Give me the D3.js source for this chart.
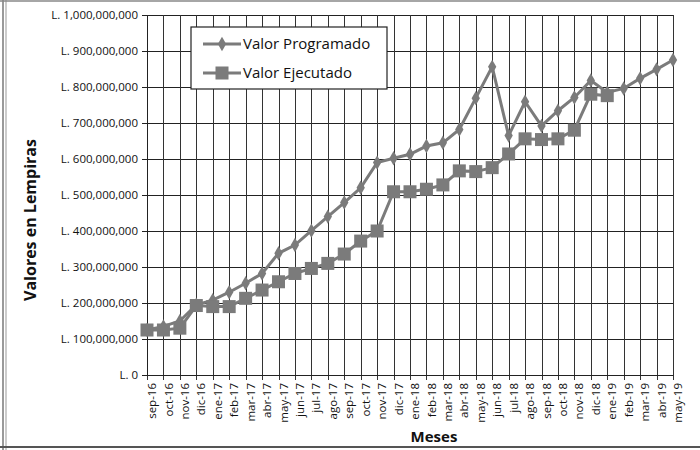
<!DOCTYPE html>
<html lang="es">
<head>
  <meta charset="UTF-8">
  <title>Valor Programado vs Valor Ejecutado</title>
  <script src="https://d3js.org/d3.v7.min.js"></script>
  <style>
    body { margin: 0; background: #fff; }
    text { font-family: "Open Sans", "Liberation Sans", sans-serif; fill: #111; }
  </style>
</head>
<body>
<svg id="chart" width="700" height="450"></svg>
<script>
  // meses (sep-16 .. may-19)
  var meses = ["sep-16", "oct-16", "nov-16", "dic-16", "ene-17", "feb-17", "mar-17", "abr-17",
    "may-17", "jun-17", "jul-17", "ago-17", "sep-17", "oct-17", "nov-17", "dic-17", "ene-18",
    "feb-18", "mar-18", "abr-18", "may-18", "jun-18", "jul-18", "ago-18", "sep-18", "oct-18",
    "nov-18", "dic-18", "ene-19", "feb-19", "mar-19", "abr-19", "may-19"];

  // valores en millones de lempiras
  var programado = [125, 135, 150, 195, 208, 230, 255, 282, 338, 361, 401, 440, 479, 520, 590,
    602, 613, 636, 645, 682, 769, 856, 665, 759, 692, 734, 771, 818, 785, 796, 824, 849, 875];
  var ejecutado = [125, 125, 130, 193, 190, 190, 213, 236, 259, 282, 296, 310, 336, 372, 400,
    509, 509, 516, 528, 567, 565, 576, 614, 656, 654, 656, 680, 780, 776];

  var yTicks = [0, 100, 200, 300, 400, 500, 600, 700, 800, 900, 1000];

  var svg = d3.select("#chart");
  var margin = { top: 15, right: 27, bottom: 75, left: 147 };
  var width = 700 - margin.left - margin.right;
  var height = 450 - margin.top - margin.bottom;

  // scanned page frame
  svg.append("line").attr("x1", 3).attr("x2", 3).attr("y1", 0).attr("y2", 450)
    .attr("stroke", "#777").attr("stroke-width", 1.5);
  svg.append("line").attr("x1", 6).attr("x2", 6).attr("y1", 0).attr("y2", 450)
    .attr("stroke", "#999").attr("stroke-width", 1);
  svg.append("line").attr("x1", 0).attr("x2", 700).attr("y1", 1).attr("y2", 1)
    .attr("stroke", "#888").attr("stroke-width", 1.5);
  svg.append("line").attr("x1", 0).attr("x2", 700).attr("y1", 447).attr("y2", 447)
    .attr("stroke", "#555").attr("stroke-width", 2);

  var g = svg.append("g").attr("transform", "translate(" + margin.left + "," + margin.top + ")");

  var x = d3.scalePoint().domain(meses).range([0, width]);
  var y = d3.scaleLinear().domain([0, 1000]).range([height, 0]);

  // gridlines
  g.append("g").selectAll("line").data(yTicks).enter().append("line")
    .attr("x1", 0).attr("x2", width)
    .attr("y1", function(d) { return Math.round(y(d)) + 0.5; })
    .attr("y2", function(d) { return Math.round(y(d)) + 0.5; })
    .attr("stroke", "#222").attr("stroke-width", 1);
  g.append("g").selectAll("line").data(meses).enter().append("line")
    .attr("x1", function(d) { return Math.round(x(d)) + 0.5; })
    .attr("x2", function(d) { return Math.round(x(d)) + 0.5; })
    .attr("y1", 0).attr("y2", height + 5)
    .attr("stroke", "#333").attr("stroke-width", 1);

  // y axis
  var fmt = d3.format(",");
  var yAxis = d3.axisLeft(y).tickValues(yTicks).tickSize(5).tickPadding(4)
    .tickFormat(function(d) { return d === 0 ? "L. 0" : "L. " + fmt(d * 1000000); });
  var ya = g.append("g").call(yAxis);
  ya.select(".domain").attr("stroke", "#222");
  ya.selectAll(".tick line").attr("stroke", "#222");
  ya.selectAll("text").style("font-size", "11.5px").attr("fill", "#222");

  // x axis, labels rotated
  var xAxis = d3.axisBottom(x).tickSize(0).tickPadding(0);
  var xa = g.append("g").attr("transform", "translate(0," + height + ")").call(xAxis);
  xa.select(".domain").attr("stroke", "#222");
  xa.selectAll("text")
    .style("font-size", "11.5px").attr("fill", "#222")
    .attr("text-anchor", "end")
    .attr("x", -8).attr("y", 0).attr("dy", "0.4em")
    .attr("transform", "translate(4,0) rotate(-90)");

  // titles
  svg.append("text").attr("x", 434).attr("y", 442).attr("text-anchor", "middle")
    .style("font-size", "15px").style("font-weight", "bold").text("Meses");
  svg.append("text").attr("transform", "translate(36,220) rotate(-90)")
    .attr("text-anchor", "middle")
    .style("font-size", "16px").style("font-weight", "bold").text("Valores en Lempiras");

  var lineColor = "#7b7b7b";
  var line = d3.line()
    .x(function(d, i) { return x(meses[i]); })
    .y(function(d) { return y(d); });

  // Valor Programado
  g.append("path").datum(programado).attr("d", line)
    .attr("fill", "none").attr("stroke", lineColor).attr("stroke-width", 3);
  var diamond = d3.symbol().type(d3.symbolDiamond).size(60);
  g.selectAll(".prog").data(programado).enter().append("path").attr("class", "prog")
    .attr("d", diamond)
    .attr("transform", function(d, i) { return "translate(" + x(meses[i]) + "," + y(d) + ")"; })
    .attr("fill", lineColor);

  // Valor Ejecutado
  g.append("path").datum(ejecutado).attr("d", line)
    .attr("fill", "none").attr("stroke", lineColor).attr("stroke-width", 3);
  var sq = 13;
  g.selectAll(".ejec").data(ejecutado).enter().append("rect").attr("class", "ejec")
    .attr("x", function(d, i) { return x(meses[i]) - sq / 2; })
    .attr("y", function(d) { return y(d) - sq / 2; })
    .attr("width", sq).attr("height", sq)
    .attr("fill", lineColor);

  // legend
  var lg = svg.append("g").attr("transform", "translate(191,27)");
  lg.append("rect").attr("x", 0).attr("y", 0).attr("width", 196).attr("height", 62)
    .attr("fill", "#fff").attr("stroke", "#222").attr("stroke-width", 1.2);
  var items = [{ name: "Valor Programado", mark: "d" }, { name: "Valor Ejecutado", mark: "s" }];
  items.forEach(function(it, i) {
    var cy = 17 + i * 29;
    lg.append("line").attr("x1", 12).attr("x2", 50).attr("y1", cy).attr("y2", cy)
      .attr("stroke", lineColor).attr("stroke-width", 3);
    if (it.mark === "d") {
      lg.append("path").attr("d", diamond).attr("transform", "translate(31," + cy + ")").attr("fill", lineColor);
    } else {
      lg.append("rect").attr("x", 31 - sq / 2).attr("y", cy - sq / 2).attr("width", sq).attr("height", sq)
        .attr("fill", lineColor);
    }
    lg.append("text").attr("x", 52).attr("y", cy).attr("dy", "0.36em")
      .style("font-size", "15px").text(it.name);
  });
</script>
</body>
</html>
